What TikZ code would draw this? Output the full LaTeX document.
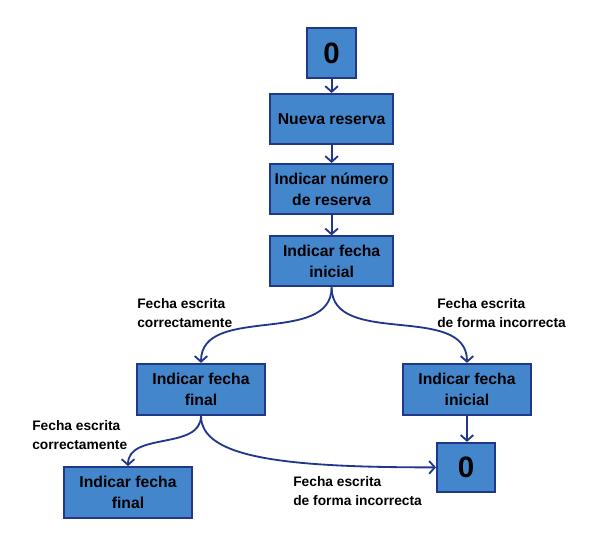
\documentclass[tikz,border=0pt]{standalone}
\usepackage{fontspec}
\setmainfont{Liberation Sans}
\usepackage{tikz}
\usetikzlibrary{arrows.meta}

\definecolor{boxblue}{RGB}{68,134,204}
\definecolor{navy}{RGB}{33,56,138}

\begin{document}
\begin{tikzpicture}[
	box/.style={draw=navy, line width=1.4pt, fill=boxblue, align=center, inner sep=1pt,
		font=\bfseries\fontsize{11.2}{15}\selectfont, minimum width=3.075cm, minimum height=1.25cm},
	zero/.style={draw=navy, line width=1.4pt, fill=boxblue, inner sep=0pt,
		font=\bfseries\fontsize{21}{24}\selectfont},
	lbl/.style={align=left, anchor=west, inner sep=0pt,
		font=\bfseries\fontsize{9.8}{13.5}\selectfont},
	link/.style={navy, line width=1.3pt, -{Straight Barb[length=4pt,width=9pt]}}]
		\begingroup
		\useasboundingbox (0,0) rectangle (15,13.575);
		
		\node[zero, minimum width=1.225cm, minimum height=1.25cm] (top0) at (8.29, 12.25) {0};
		\node[box] (nueva) at (8.29, 10.6) {Nueva reserva};
		\node[box] (numero) at (8.29, 8.85) {Indicar número\\de reserva};
		\node[box] (inicial) at (8.29, 7.04) {Indicar fecha\\inicial};
		\node[box, minimum width=3.2cm, minimum height=1.275cm] (finalL) at (5.025, 3.84) {Indicar fecha\\final};
		\node[box, minimum width=3.2cm, minimum height=1.275cm] (inicialR) at (11.675, 3.84) {Indicar fecha\\inicial};
		\node[zero, minimum width=1.45cm, minimum height=1.225cm] (zeroR) at (11.65, 1.89) {0};
		\node[box, minimum width=3.2cm, minimum height=1.275cm] (finalB) at (3.2, 1.26) {Indicar fecha\\final};
		
		\node[lbl] (okA) at (3.425, 5.76) {Fecha escrita\\correctamente};
		\node[lbl] (badA) at (10.925, 5.76) {Fecha escrita\\de forma incorrecta};
		\node[lbl] (okB) at (0.8, 2.71) {Fecha escrita\\correctamente};
		\node[lbl] (badB) at (7.325, 1.29) {Fecha escrita\\de forma incorrecta};
		
		\draw[link] (top0) -- (nueva);
		\draw[link] (nueva) -- (numero);
		\draw[link] (numero) -- (inicial);
		
		\draw[link] (inicial.south) to[out=-90, in=90] (finalL.north);
		\draw[link] (inicial.south) to[out=-90, in=90] (inicialR.north);
		
		\draw[link] (inicialR.south) -- (inicialR.south |- zeroR.north);
		
		\draw[link] (finalL.south) to[out=-90, in=90] (finalB.north);
		\draw[link] (finalL.south) to[out=-90, in=180, out looseness=0.45, in looseness=1.6] (zeroR.west);
		\endgroup
\end{tikzpicture}
\end{document}
